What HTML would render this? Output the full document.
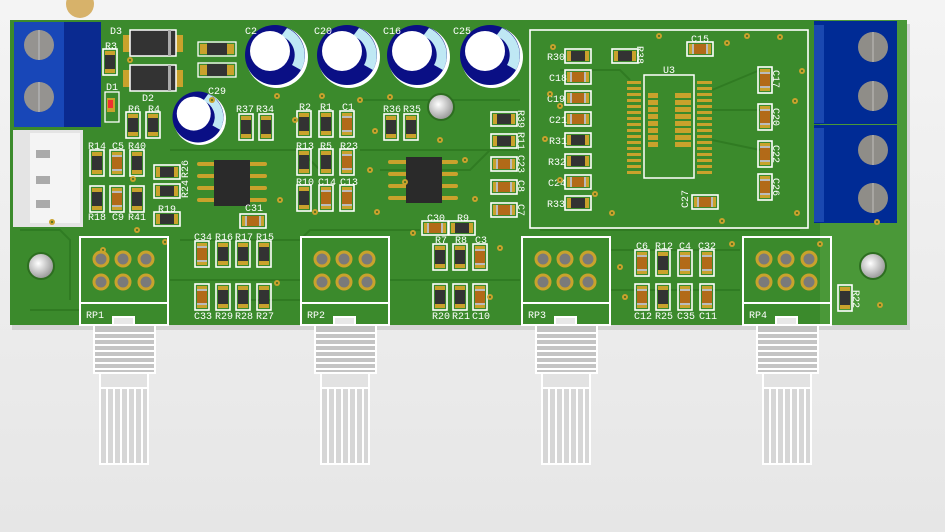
<!DOCTYPE html>
<html><head><meta charset="utf-8"><style>
html,body{margin:0;padding:0;width:945px;height:532px;overflow:hidden;background:#ececec}
svg{display:block}
text{font-family:"Liberation Mono",monospace;fill:#fff;font-size:10px}
</style></head><body>
<svg width="945" height="532" viewBox="0 0 945 532" xmlns="http://www.w3.org/2000/svg">
<defs>
<linearGradient id="bg" x1="0" y1="0" x2="0" y2="1"><stop offset="0" stop-color="#f4f4f4"/><stop offset="1" stop-color="#e6e6e6"/></linearGradient>
<radialGradient id="hole" cx="0.4" cy="0.4" r="0.6"><stop offset="0" stop-color="#fff"/><stop offset="1" stop-color="#999"/></radialGradient>
<g id="rv"><rect x="-7" y="-13" width="14" height="26" fill="none" stroke="#fff" stroke-width="1.6"/><rect x="-5" y="-11" width="10" height="22" fill="#c9a22c"/><rect x="-5" y="-7" width="10" height="14" fill="#333"/></g>
<g id="cv"><rect x="-7" y="-13" width="14" height="26" fill="none" stroke="#fff" stroke-width="1.6"/><rect x="-5" y="-11" width="10" height="22" fill="#c9a22c"/><rect x="-5" y="-8" width="10" height="16" fill="#bbb"/><rect x="-5" y="-6" width="10" height="12" fill="#b26a18"/></g>
<g id="rh"><use href="#rv" transform="rotate(90)"/></g>
<g id="ch"><use href="#cv" transform="rotate(90)"/></g>
<g id="pad"><circle r="3" fill="#c9a22c"/><circle r="1" fill="#3a6a20"/></g>
<g id="cap"><circle cx="2" cy="2" r="31" fill="#fff"/><circle r="30" fill="#0a0f85"/><path d="M12,-27 A30,30 0 0 1 26,15 L17,10 A20,20 0 0 0 6,-19 Z" fill="#bfe8f4"/><circle cx="-5" cy="-4" r="20" fill="#fff"/></g>
<g id="pot">
<rect x="0" y="0" width="88" height="88" fill="none" stroke="#fff" stroke-width="2"/>
<line x1="0" y1="66" x2="88" y2="66" stroke="#fff" stroke-width="2"/>
<g fill="#7a7a7a" stroke="#c9a22c" stroke-width="3">
<circle cx="21" cy="22" r="7"/><circle cx="43" cy="22" r="7"/><circle cx="66" cy="22" r="7"/>
<circle cx="21" cy="45" r="7"/><circle cx="43" cy="45" r="7"/><circle cx="66" cy="45" r="7"/></g>
<rect x="33" y="80" width="21" height="12" fill="#e8e8e8" stroke="#fff" stroke-width="2"/>
</g>
<g id="knob">
<rect x="0" y="0" width="61" height="48" fill="#c4c4c4" stroke="#fff" stroke-width="2"/>
<g stroke="#fff" stroke-width="2"><line x1="0" y1="8" x2="61" y2="8"/><line x1="0" y1="14" x2="61" y2="14"/><line x1="0" y1="20" x2="61" y2="20"/><line x1="0" y1="26" x2="61" y2="26"/><line x1="0" y1="32" x2="61" y2="32"/><line x1="0" y1="38" x2="61" y2="38"/><line x1="0" y1="44" x2="61" y2="44"/></g>
<rect x="6" y="48" width="48" height="91" fill="#d6d6d6" stroke="#fff" stroke-width="2"/>
<rect x="7" y="49" width="46" height="14" fill="#e2e2e2"/>
<line x1="6" y1="63" x2="54" y2="63" stroke="#fff" stroke-width="2"/>
<g stroke="#fff" stroke-width="2"><line x1="13" y1="63" x2="13" y2="139"/><line x1="20" y1="63" x2="20" y2="139"/><line x1="27" y1="63" x2="27" y2="139"/><line x1="34" y1="63" x2="34" y2="139"/><line x1="41" y1="63" x2="41" y2="139"/><line x1="48" y1="63" x2="48" y2="139"/></g>
</g>
</defs>
<rect width="945" height="532" fill="url(#bg)"/>
<ellipse cx="80" cy="4" rx="14" ry="14" fill="#d7b26a"/>
<rect x="12" y="24" width="898" height="306" fill="#d4d4d4"/>
<rect x="10" y="20" width="897" height="305" fill="#3b8a2c"/>
<rect x="820" y="20" width="87" height="305" fill="#4a9838"/>
<g stroke="#2f7a22" stroke-width="2" fill="none" opacity="0.9">
<path d="M20,230 L60,230 L70,240 L70,300"/><path d="M170,150 L300,150 L320,170"/><path d="M360,150 L520,150"/>
<path d="M180,240 L300,240 L310,230 L420,230"/><path d="M380,170 L470,170 L490,150"/><path d="M250,300 L300,300"/>
<path d="M610,250 L740,250"/><path d="M610,290 L740,290"/><path d="M390,280 L520,280"/><path d="M170,280 L300,280"/>
<path d="M560,70 L620,70 L630,80"/><path d="M712,90 L760,70"/><path d="M712,110 L760,110"/><path d="M712,140 L760,150"/>
<path d="M540,230 L800,230"/><path d="M30,310 L80,310"/><path d="M360,100 L520,100"/>
</g>
<rect x="14" y="22" width="87" height="105" fill="#0b2e9a"/>
<rect x="14" y="22" width="50" height="105" fill="#1847b8"/>
<rect x="64" y="22" width="37" height="105" fill="#0a2a90"/>
<circle cx="39" cy="45" r="15" fill="#959390"/><line x1="39" y1="30" x2="39" y2="60" stroke="#aaa" stroke-width="2"/>
<circle cx="39" cy="97" r="15" fill="#959390"/><line x1="39" y1="82" x2="39" y2="112" stroke="#aaa" stroke-width="2"/>
<rect x="13" y="130" width="70" height="97" fill="#e4e4e4"/>
<rect x="30" y="133" width="50" height="90" fill="#f4f4f4"/>
<rect x="36" y="150" width="14" height="8" fill="#aaa"/><rect x="36" y="176" width="14" height="8" fill="#aaa"/><rect x="36" y="200" width="14" height="8" fill="#aaa"/>
<rect x="814" y="21" width="83" height="103" fill="#002b95"/>
<rect x="814" y="125" width="83" height="98" fill="#002b95"/>
<rect x="814" y="25" width="10" height="98" fill="#1a48b0"/><rect x="814" y="128" width="10" height="94" fill="#1a48b0"/>
<g fill="#8f8d88"><circle cx="873" cy="47" r="15"/><circle cx="873" cy="96" r="15"/><circle cx="873" cy="150" r="15"/><circle cx="873" cy="198" r="15"/></g>
<g stroke="#a8a6a2" stroke-width="2"><line x1="873" y1="32" x2="873" y2="62"/><line x1="873" y1="81" x2="873" y2="111"/><line x1="873" y1="135" x2="873" y2="165"/><line x1="873" y1="183" x2="873" y2="213"/></g>
<rect x="123" y="35" width="10" height="17" fill="#c9a22c"/><rect x="173" y="35" width="10" height="17" fill="#c9a22c"/>
<rect x="130" y="30" width="46" height="26" fill="#333" stroke="#fff" stroke-width="1.5"/><rect x="168" y="30" width="3" height="26" fill="#aaa"/>
<rect x="123" y="70" width="10" height="17" fill="#c9a22c"/><rect x="173" y="70" width="10" height="17" fill="#c9a22c"/>
<rect x="130" y="65" width="46" height="26" fill="#333" stroke="#fff" stroke-width="1.5"/><rect x="168" y="65" width="3" height="26" fill="#aaa"/>
<g><rect x="198" y="42" width="38" height="14" fill="none" stroke="#fff" stroke-width="1.3"/><rect x="200" y="44" width="8" height="10" fill="#c9a22c"/><rect x="226" y="44" width="8" height="10" fill="#c9a22c"/><rect x="207" y="43" width="20" height="12" fill="#333"/></g>
<g><rect x="198" y="63" width="38" height="14" fill="none" stroke="#fff" stroke-width="1.3"/><rect x="200" y="65" width="8" height="10" fill="#c9a22c"/><rect x="226" y="65" width="8" height="10" fill="#c9a22c"/><rect x="207" y="64" width="20" height="12" fill="#333"/></g>
<text x="110" y="34">D3</text><text x="142" y="101">D2</text><text x="106" y="90">D1</text>
<rect x="105" y="92" width="14" height="30" fill="none" stroke="#fff" stroke-width="1.3"/><rect x="107" y="98" width="8" height="14" fill="#c9a22c"/><rect x="108" y="100" width="5" height="8" fill="#f03030"/>
<use href="#cap" x="275" y="55"/><use href="#cap" x="347" y="55"/><use href="#cap" x="417" y="55"/><use href="#cap" x="490" y="55"/>
<use href="#cap" transform="translate(198,117) scale(0.85)"/>
<text x="245" y="34">C2</text><text x="314" y="34">C20</text><text x="383" y="34">C16</text><text x="453" y="34">C25</text><text x="208" y="94">C29</text>
<circle cx="441" cy="107" r="13" fill="url(#hole)" stroke="#2d6e20" stroke-width="2"/>
<circle cx="41" cy="266" r="13" fill="url(#hole)" stroke="#2d6e20" stroke-width="2"/>
<circle cx="873" cy="266" r="13" fill="url(#hole)" stroke="#2d6e20" stroke-width="2"/>
<g fill="#c9a22c"><rect x="197" y="162" width="70" height="4" rx="2"/><rect x="197" y="174" width="70" height="4" rx="2"/><rect x="197" y="186" width="70" height="4" rx="2"/><rect x="197" y="198" width="70" height="4" rx="2"/></g>
<rect x="214" y="160" width="36" height="46" fill="#2a2a2a"/>
<g fill="#c9a22c"><rect x="388" y="160" width="70" height="4" rx="2"/><rect x="388" y="172" width="70" height="4" rx="2"/><rect x="388" y="184" width="70" height="4" rx="2"/><rect x="388" y="196" width="70" height="4" rx="2"/></g>
<rect x="406" y="157" width="36" height="46" fill="#2a2a2a"/>
<use href="#rv" x="110" y="62"/><text x="105" y="49">R3</text>
<use href="#rv" x="133" y="125"/><text x="128" y="112">R6</text>
<use href="#rv" x="153" y="125"/><text x="148" y="112">R4</text>
<use href="#rv" x="97" y="163"/><use href="#cv" x="117" y="163"/><use href="#rv" x="137" y="163"/>
<text x="88" y="149">R14</text><text x="112" y="149">C5</text><text x="128" y="149">R40</text>
<use href="#rv" x="97" y="199"/><use href="#cv" x="117" y="199"/><use href="#rv" x="137" y="199"/>
<text x="88" y="220">R18</text><text x="112" y="220">C9</text><text x="128" y="220">R41</text>
<use href="#rh" x="167" y="172"/><use href="#rh" x="167" y="191"/><use href="#rh" x="167" y="219"/>
<text transform="translate(188,178) rotate(-90)">R26</text><text transform="translate(188,198) rotate(-90)">R24</text>
<text x="158" y="212">R19</text>
<use href="#rv" x="246" y="127"/><use href="#rv" x="266" y="127"/><text x="236" y="112">R37</text><text x="256" y="112">R34</text>
<use href="#rv" x="304" y="124"/><use href="#rv" x="326" y="124"/><use href="#cv" x="347" y="124"/>
<text x="299" y="110">R2</text><text x="320" y="110">R1</text><text x="342" y="110">C1</text>
<use href="#rv" x="304" y="162"/><use href="#rv" x="326" y="162"/><use href="#cv" x="347" y="162"/>
<text x="296" y="149">R13</text><text x="320" y="149">R5</text><text x="340" y="149">R23</text>
<use href="#rv" x="304" y="198"/><use href="#cv" x="326" y="198"/><use href="#cv" x="347" y="198"/>
<text x="296" y="185">R10</text><text x="318" y="185">C14</text><text x="340" y="185">C13</text>
<use href="#rv" x="391" y="127"/><use href="#rv" x="411" y="127"/><text x="383" y="112">R36</text><text x="403" y="112">R35</text>
<use href="#ch" x="253" y="221"/><text x="245" y="211">C31</text>
<use href="#rh" x="504" y="119"/><use href="#rh" x="504" y="141"/><use href="#ch" x="504" y="164"/><use href="#ch" x="504" y="187"/><use href="#ch" x="504" y="210"/>
<text transform="translate(518,110) rotate(90)">R39</text><text transform="translate(518,132) rotate(90)">R11</text><text transform="translate(518,155) rotate(90)">C23</text><text transform="translate(518,180) rotate(90)">C8</text><text transform="translate(518,204) rotate(90)">C7</text>
<use href="#cv" x="202" y="254"/><use href="#rv" x="223" y="254"/><use href="#rv" x="243" y="254"/><use href="#rv" x="264" y="254"/>
<text x="194" y="240">C34</text><text x="215" y="240">R16</text><text x="235" y="240">R17</text><text x="256" y="240">R15</text>
<use href="#cv" x="202" y="297"/><use href="#rv" x="223" y="297"/><use href="#rv" x="243" y="297"/><use href="#rv" x="264" y="297"/>
<text x="194" y="319">C33</text><text x="215" y="319">R29</text><text x="235" y="319">R28</text><text x="256" y="319">R27</text>
<use href="#ch" x="435" y="228"/><use href="#rh" x="462" y="228"/><text x="427" y="221">C30</text><text x="457" y="221">R9</text>
<use href="#rv" x="440" y="257"/><use href="#rv" x="460" y="257"/><use href="#cv" x="480" y="257"/>
<text x="435" y="243">R7</text><text x="455" y="243">R8</text><text x="475" y="243">C3</text>
<use href="#rv" x="440" y="297"/><use href="#rv" x="460" y="297"/><use href="#cv" x="480" y="297"/>
<text x="432" y="319">R20</text><text x="452" y="319">R21</text><text x="472" y="319">C10</text>
<use href="#cv" x="642" y="263"/><use href="#rv" x="663" y="263"/><use href="#cv" x="685" y="263"/><use href="#cv" x="707" y="263"/>
<text x="636" y="249">C6</text><text x="655" y="249">R12</text><text x="679" y="249">C4</text><text x="698" y="249">C32</text>
<use href="#cv" x="642" y="297"/><use href="#rv" x="663" y="297"/><use href="#cv" x="685" y="297"/><use href="#cv" x="707" y="297"/>
<text x="634" y="319">C12</text><text x="655" y="319">R25</text><text x="677" y="319">C35</text><text x="699" y="319">C11</text>
<use href="#rv" x="845" y="298"/><text transform="translate(853,290) rotate(90)">R22</text>
<rect x="530" y="30" width="278" height="198" fill="none" stroke="#fff" stroke-width="1.6"/>
<rect x="644" y="75" width="50" height="103" fill="none" stroke="#fff" stroke-width="1.5"/>
<text x="663" y="73">U3</text>
<g fill="#c9a22c">
<rect x="627" y="81" width="14" height="3"/><rect x="627" y="87" width="14" height="3"/><rect x="627" y="93" width="14" height="3"/><rect x="627" y="99" width="14" height="3"/><rect x="627" y="105" width="14" height="3"/><rect x="627" y="111" width="14" height="3"/><rect x="627" y="117" width="14" height="3"/><rect x="627" y="123" width="14" height="3"/><rect x="627" y="129" width="14" height="3"/><rect x="627" y="135" width="14" height="3"/><rect x="627" y="141" width="14" height="3"/><rect x="627" y="147" width="14" height="3"/><rect x="627" y="153" width="14" height="3"/><rect x="627" y="159" width="14" height="3"/><rect x="627" y="165" width="14" height="3"/><rect x="627" y="171" width="14" height="3"/>
<rect x="697" y="81" width="15" height="3"/><rect x="697" y="87" width="15" height="3"/><rect x="697" y="93" width="15" height="3"/><rect x="697" y="99" width="15" height="3"/><rect x="697" y="105" width="15" height="3"/><rect x="697" y="111" width="15" height="3"/><rect x="697" y="117" width="15" height="3"/><rect x="697" y="123" width="15" height="3"/><rect x="697" y="129" width="15" height="3"/><rect x="697" y="135" width="15" height="3"/><rect x="697" y="141" width="15" height="3"/><rect x="697" y="147" width="15" height="3"/><rect x="697" y="153" width="15" height="3"/><rect x="697" y="159" width="15" height="3"/><rect x="697" y="165" width="15" height="3"/><rect x="697" y="171" width="15" height="3"/>
<rect x="648" y="93" width="10" height="5"/><rect x="648" y="100" width="10" height="5"/><rect x="648" y="107" width="10" height="5"/><rect x="648" y="114" width="10" height="5"/><rect x="648" y="121" width="10" height="5"/><rect x="648" y="128" width="10" height="5"/><rect x="648" y="135" width="10" height="5"/><rect x="648" y="142" width="10" height="5"/>
<rect x="675" y="93" width="16" height="5"/><rect x="675" y="100" width="16" height="5"/><rect x="675" y="107" width="16" height="5"/><rect x="675" y="114" width="16" height="5"/><rect x="675" y="121" width="16" height="5"/><rect x="675" y="128" width="16" height="5"/><rect x="675" y="135" width="16" height="5"/><rect x="675" y="142" width="16" height="5"/>
</g>
<use href="#rh" x="578" y="56"/><use href="#ch" x="578" y="77"/><use href="#ch" x="578" y="98"/><use href="#ch" x="578" y="119"/><use href="#rh" x="578" y="140"/><use href="#rh" x="578" y="161"/><use href="#ch" x="578" y="182"/><use href="#rh" x="578" y="203"/>
<text x="547" y="60">R30</text><text x="549" y="81">C18</text><text x="547" y="102">C19</text><text x="549" y="123">C21</text><text x="549" y="144">R31</text><text x="548" y="165">R32</text><text x="548" y="186">C24</text><text x="547" y="207">R33</text>
<use href="#rh" x="625" y="56"/><text transform="translate(637,46) rotate(90)">R38</text>
<use href="#ch" x="700" y="49"/><text x="691" y="42">C15</text>
<use href="#cv" x="765" y="80"/><use href="#cv" x="765" y="117"/><use href="#cv" x="765" y="154"/><use href="#cv" x="765" y="187"/>
<text transform="translate(773,70) rotate(90)">C17</text><text transform="translate(773,108) rotate(90)">C20</text><text transform="translate(773,145) rotate(90)">C22</text><text transform="translate(773,178) rotate(90)">C26</text>
<use href="#ch" x="705" y="202"/><text transform="translate(688,208) rotate(-90)">C27</text>
<g>
<use href="#pad" x="133" y="179"/><use href="#pad" x="165" y="242"/><use href="#pad" x="130" y="60"/><use href="#pad" x="212" y="100"/><use href="#pad" x="277" y="96"/><use href="#pad" x="322" y="96"/><use href="#pad" x="360" y="100"/><use href="#pad" x="390" y="97"/><use href="#pad" x="375" y="131"/><use href="#pad" x="370" y="170"/><use href="#pad" x="377" y="212"/><use href="#pad" x="315" y="212"/><use href="#pad" x="280" y="200"/><use href="#pad" x="277" y="283"/><use href="#pad" x="295" y="120"/><use href="#pad" x="440" y="140"/><use href="#pad" x="465" y="160"/><use href="#pad" x="475" y="199"/><use href="#pad" x="413" y="233"/><use href="#pad" x="405" y="182"/><use href="#pad" x="500" y="248"/><use href="#pad" x="490" y="297"/><use href="#pad" x="620" y="267"/><use href="#pad" x="625" y="297"/><use href="#pad" x="732" y="244"/><use href="#pad" x="820" y="244"/><use href="#pad" x="877" y="222"/><use href="#pad" x="880" y="305"/><use href="#pad" x="553" y="47"/><use href="#pad" x="550" y="94"/><use href="#pad" x="545" y="139"/><use href="#pad" x="560" y="180"/><use href="#pad" x="595" y="194"/><use href="#pad" x="612" y="213"/><use href="#pad" x="722" y="221"/><use href="#pad" x="797" y="213"/><use href="#pad" x="795" y="101"/><use href="#pad" x="802" y="71"/><use href="#pad" x="780" y="37"/><use href="#pad" x="747" y="36"/><use href="#pad" x="727" y="43"/><use href="#pad" x="659" y="36"/><use href="#pad" x="560" y="106"/><use href="#pad" x="103" y="250"/><use href="#pad" x="137" y="230"/><use href="#pad" x="52" y="222"/>
</g>
<use href="#pot" x="80" y="237"/><use href="#pot" x="301" y="237"/><use href="#pot" x="522" y="237"/><use href="#pot" x="743" y="237"/>
<text x="86" y="318">RP1</text><text x="307" y="318">RP2</text><text x="528" y="318">RP3</text><text x="749" y="318">RP4</text>
<use href="#knob" x="94" y="325"/><use href="#knob" x="315" y="325"/><use href="#knob" x="536" y="325"/><use href="#knob" x="757" y="325"/>
</svg>
</body></html>
